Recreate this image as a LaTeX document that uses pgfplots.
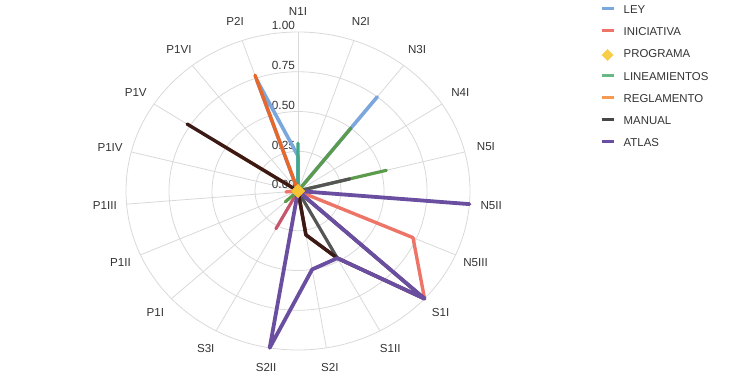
\documentclass[border=0pt]{standalone}
\usepackage{pgfplots}
\pgfplotsset{compat=1.18}
\usepackage{pgfplotstable}
\usepackage{fontspec}
\setmainfont{Liberation Sans}

\definecolor{cLey}{HTML}{7BA7DC}
\definecolor{cIni}{HTML}{EE7467}
\definecolor{cProg}{HTML}{F7C233}
\definecolor{cProgLeg}{HTML}{F8CD4A}
\definecolor{cLin}{HTML}{5C9B4C}
\definecolor{cLinLeg}{HTML}{66B884}
\definecolor{cTeal}{HTML}{3FA986}
\definecolor{cReg}{HTML}{F39A55}
\definecolor{cRegD}{HTML}{E8672A}
\definecolor{cMan}{HTML}{555555}
\definecolor{cManLeg}{HTML}{474747}
\definecolor{cBrown}{HTML}{3B1A16}
\definecolor{cRose}{HTML}{C5566B}
\definecolor{cAtl}{HTML}{6A4FA0}
\definecolor{cGrid}{HTML}{D9D9D9}
\definecolor{cTxt}{HTML}{333333}

\pgfplotsset{
  legline/.style={legend image code/.code={\draw[##1,line width=3pt] (0pt,1pt) -- (12pt,1pt);}},
  legdia/.style={legend image code/.code={\fill[cProgLeg, overlay] (6pt,-6.5pt) -- (11.5pt,-1pt) -- (6pt,4.5pt) -- (0.5pt,-1pt) -- cycle;}},
  series/.style={forget plot, data cs=polar, mark=none, line join=round, line cap=round},
}

% categories: 0 N1I,1 N2I,2 N3I,3 N4I,4 N5I,5 N5II,6 N5III,7 S1I,8 S1II,9 S2I,
% 10 S2II,11 S3I,12 P1I,13 P1II,14 P1III,15 P1IV,16 P1V,17 P1VI,18 P2I (19 = 0 again)
\pgfplotstableread{
i v
0 0.22
1 0
2 0.75
3 0
4 0
5 0
6 0
7 0
8 0
9 0
10 0
11 0
12 0
13 0
14 0
15 0
16 0
17 0
18 0.74
19 0.22
}\tLey
\pgfplotstableread{
i v
0 0
1 0
2 0
3 0
4 0
5 0
6 0.73
7 1.00
8 0.48
9 0.28
10 0
11 0
12 0
13 0
14 0.07
15 0
16 0
17 0
18 0
19 0
}\tIni
\pgfplotstableread{
i v
0 0
1 0
2 0
3 0
4 0
5 0
6 0
7 0
8 0
9 0
10 0
11 0
12 0
13 0
14 0
15 0
16 0
17 0
18 0
19 0
}\tProg
\pgfplotstableread{
i v
0 0
1 0
2 0.50
3 0
4 0.53
5 0
6 0
7 0
8 0
9 0
10 0
11 0
12 0.10
13 0
14 0
15 0
16 0
17 0
18 0
19 0
}\tLin
\pgfplotstableread{
i v
0 0.30
1 0
2 0
3 0
4 0
5 0
6 0
7 0
8 0
9 0
10 0
11 0
12 0
13 0
14 0
15 0
16 0
17 0
18 0
19 0.30
}\tTeal
\pgfplotstableread{
i v
0 0
1 0
2 0
3 0
4 0
5 0
6 0
7 0
8 0
9 0
10 0
11 0.27
12 0
13 0
14 0
15 0
16 0
17 0
18 0
19 0
}\tRose
\pgfplotstableread{
i v
0 0
1 0
2 0
3 0
4 0
5 0
6 0
7 0
8 0
9 0
10 0
11 0
12 0
13 0
14 0
15 0
16 0.55
17 0
18 0
19 0
}\tReg
\pgfplotstableread{
i v
0 0
1 0
2 0
3 0
4 0
5 0
6 0
7 0
8 0
9 0
10 0
11 0
12 0
13 0
14 0
15 0
16 0
17 0
18 0.77
19 0
}\tRegD
\pgfplotstableread{
i v
0 0
1 0
2 0
3 0
4 0.31
5 0
6 0
7 0
8 0.48
9 0.28
10 0
11 0
12 0
13 0
14 0
15 0
16 0
17 0
18 0
19 0
}\tMan
\pgfplotstableread{
i v
0 0
1 0
2 0
3 0
4 0
5 0
6 0
7 1.00
8 0.48
9 0.28
10 0
11 0
12 0
13 0
14 0
15 0
16 0.77
17 0
18 0
19 0
}\tBrown
\pgfplotstableread{
i v
0 0
1 0
2 0
3 0
4 0
5 1.00
6 0
7 1.00
8 0.48
9 0.50
10 1.00
11 0
12 0
13 0
14 0
15 0
16 0
17 0
18 0
19 0
}\tAtl

\begin{document}
\begin{tikzpicture}
\path[use as bounding box] (0pt,0pt) rectangle (730pt,380pt);
\begin{axis}[at={(0pt,0pt)}, anchor=south west, scale only axis, width=730pt, height=380pt,
  xmin=-1.73256, xmax=2.51163, ymin=-1.18868, ymax=1.20126, hide axis, clip=false,
  legend cell align=left,
  legend style={at={(0.82192,0.98921)}, anchor=north west, draw=none, fill=none,
    inner sep=0pt, outer sep=0pt, row sep=11.2pt,
    font=\fontsize{11.4}{13}\selectfont, text=cTxt,
    nodes={inner sep=0pt, outer sep=0pt, text height=9.5pt, text depth=1.5pt},
    /tikz/every odd column/.append style={column sep=8.7pt}}]
\addlegendimage{legline, cLey}\addlegendentry{LEY}
\addlegendimage{legline, cIni}\addlegendentry{INICIATIVA}
\addlegendimage{legdia}\addlegendentry{PROGRAMA}
\addlegendimage{legline, cLinLeg}\addlegendentry{LINEAMIENTOS}
\addlegendimage{legline, cReg}\addlegendentry{REGLAMENTO}
\addlegendimage{legline, cManLeg}\addlegendentry{MANUAL}
\addlegendimage{legline, cAtl}\addlegendentry{ATLAS}

% grid: rings (1 unit = 172pt across, 159pt up) and spokes
\draw[cGrid, line width=0.8pt] (axis cs:0,0) ellipse [x radius=43pt, y radius=39.75pt];
\draw[cGrid, line width=0.8pt] (axis cs:0,0) ellipse [x radius=86pt, y radius=79.5pt];
\draw[cGrid, line width=0.8pt] (axis cs:0,0) ellipse [x radius=129pt, y radius=119.25pt];
\draw[cGrid, line width=0.8pt] (axis cs:0,0) ellipse [x radius=172pt, y radius=159pt];
\pgfplotsinvokeforeach{0,...,18}{
  \draw[cGrid, line width=0.8pt] (axis cs:0,0) -- (axis cs:{sin(#1*360/19)},{cos(#1*360/19)});
}

% radial tick labels
\begin{scope}[every node/.style={font=\fontsize{11.8}{13}\selectfont, text=cTxt, inner sep=0pt, anchor=south east}]
\node at (axis cs:-0.017,0.012) {0.00};
\node at (axis cs:-0.017,0.262) {0.25};
\node at (axis cs:-0.017,0.512) {0.50};
\node at (axis cs:-0.017,0.762) {0.75};
\node at (axis cs:-0.017,1.012) {1.00};
\end{scope}

% category labels
\begin{scope}[every node/.style={font=\fontsize{11.6}{13}\selectfont, text=cTxt, inner sep=0pt, anchor=center}]
\node at (axis cs:{1.127*sin(0*360/19)},{1.127*cos(0*360/19)}) {N1I};
\node at (axis cs:{1.127*sin(1*360/19)},{1.127*cos(1*360/19)}) {N2I};
\node at (axis cs:{1.127*sin(2*360/19)},{1.127*cos(2*360/19)}) {N3I};
\node at (axis cs:{1.127*sin(3*360/19)},{1.127*cos(3*360/19)}) {N4I};
\node at (axis cs:{1.127*sin(4*360/19)},{1.127*cos(4*360/19)}) {N5I};
\node at (axis cs:{1.127*sin(5*360/19)},{1.127*cos(5*360/19)}) {N5II};
\node at (axis cs:{1.127*sin(6*360/19)},{1.127*cos(6*360/19)}) {N5III};
\node at (axis cs:{1.127*sin(7*360/19)},{1.127*cos(7*360/19)}) {S1I};
\node at (axis cs:{1.127*sin(8*360/19)},{1.127*cos(8*360/19)}) {S1II};
\node at (axis cs:{1.127*sin(9*360/19)},{1.127*cos(9*360/19)}) {S2I};
\node at (axis cs:{1.127*sin(10*360/19)},{1.127*cos(10*360/19)}) {S2II};
\node at (axis cs:{1.127*sin(11*360/19)},{1.127*cos(11*360/19)}) {S3I};
\node at (axis cs:{1.127*sin(12*360/19)},{1.127*cos(12*360/19)}) {P1I};
\node at (axis cs:{1.127*sin(13*360/19)},{1.127*cos(13*360/19)}) {P1II};
\node at (axis cs:{1.127*sin(14*360/19)},{1.127*cos(14*360/19)}) {P1III};
\node at (axis cs:{1.127*sin(15*360/19)},{1.127*cos(15*360/19)}) {P1IV};
\node at (axis cs:{1.127*sin(16*360/19)},{1.127*cos(16*360/19)}) {P1V};
\node at (axis cs:{1.127*sin(17*360/19)},{1.127*cos(17*360/19)}) {P1VI};
\node at (axis cs:{1.127*sin(18*360/19)},{1.127*cos(18*360/19)}) {P2I};
\end{scope}

% series (angle measured counter-clockwise from east: 90 - i*360/19)
\addplot[series, cLey, line width=3.6pt] table[x expr={90-\thisrow{i}*360/19}, y=v] {\tLey};
\addplot[series, cIni, line width=3.4pt] table[x expr={90-\thisrow{i}*360/19}, y=v] {\tIni};
\addplot[series, cRose, line width=3.2pt] table[x expr={90-\thisrow{i}*360/19}, y=v] {\tRose};
\addplot[series, cTeal, line width=3.2pt] table[x expr={90-\thisrow{i}*360/19}, y=v] {\tTeal};
\addplot[series, cLin, line width=3.2pt] table[x expr={90-\thisrow{i}*360/19}, y=v] {\tLin};
\addplot[series, cReg, line width=3.4pt] table[x expr={90-\thisrow{i}*360/19}, y=v] {\tReg};
\addplot[series, cRegD, line width=3.4pt] table[x expr={90-\thisrow{i}*360/19}, y=v] {\tRegD};
\addplot[series, cMan, line width=3.2pt] table[x expr={90-\thisrow{i}*360/19}, y=v] {\tMan};
\addplot[series, cBrown, line width=3.4pt] table[x expr={90-\thisrow{i}*360/19}, y=v] {\tBrown};
\addplot[series, cAtl, line width=3.8pt] table[x expr={90-\thisrow{i}*360/19}, y=v] {\tAtl};
\addplot[forget plot, only marks, mark=square*, mark size=4.3pt, mark options={rotate=45}, color=cProg, data cs=polar]
  table[x expr={90-\thisrow{i}*360/19}, y=v] {\tProg};
\end{axis}
\end{tikzpicture}
\end{document}
